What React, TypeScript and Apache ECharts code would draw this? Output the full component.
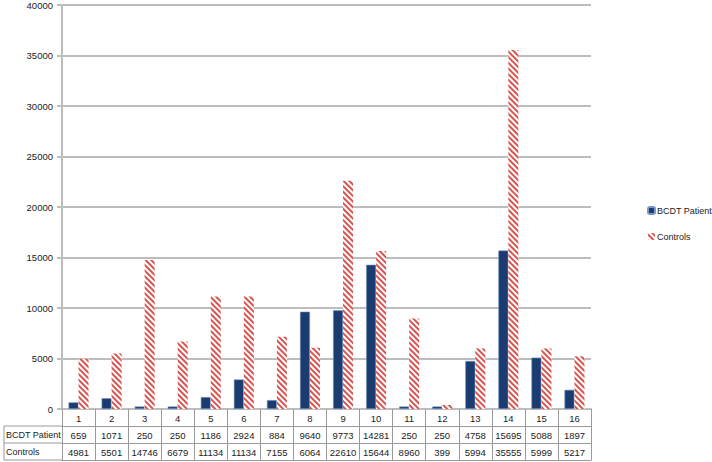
import React, { useEffect, useRef } from "react";
import * as echarts from "echarts";

const categories = ["1","2","3","4","5","6","7","8","9","10","11","12","13","14","15","16"];
const patientValues = [659,1071,250,250,1186,2924,884,9640,9773,14281,250,250,4758,15695,5088,1897];
const controlValues = [4981,5501,14746,6679,11134,11134,7155,6064,22610,15644,8960,399,5994,35555,5999,5217];
const seriesNames = ["BCDT Patient", "Controls"];

const FONT = "'Liberation Sans', Arial, sans-serif";
const GRID_L = 62, GRID_R = 121, GRID_T = 4, GRID_B = 53;
const ROW = 17;
const TABLE_LINE = "#9a9a9a";
const NUM_SIZE = 9.5;
const TXT_SIZE = 9;

export default function App() {
  const ref = useRef<HTMLDivElement>(null);
  useEffect(() => {
    if (!ref.current) return;
    const chart = echarts.init(ref.current, null, { renderer: "svg" });
    const zeroY = 462 - GRID_B;
    const tableAxis = (data: (string | number)[], offset: number) => ({
      type: "category" as const,
      data: data.map(String),
      position: "bottom" as const,
      gridIndex: 0,
      offset,
      boundaryGap: true,
      axisLine: { show: true, lineStyle: { color: TABLE_LINE, width: 1 } },
      axisTick: { show: true, length: ROW, lineStyle: { color: TABLE_LINE, width: 1 } },
      axisLabel: { show: true, margin: 4, fontSize: NUM_SIZE, color: "#222", fontFamily: FONT, interval: 0 },
      splitLine: { show: false },
    });
    chart.setOption({
      animation: false,
      backgroundColor: "#fff",
      grid: { left: GRID_L, right: GRID_R, top: GRID_T, bottom: GRID_B, containLabel: false },
      legend: {
        orient: "vertical",
        left: 647,
        top: 206,
        padding: 0,
        itemWidth: 7,
        itemHeight: 7,
        itemGap: 17,
        textStyle: { fontSize: TXT_SIZE, color: "#222", fontFamily: FONT, padding: [0, 0, 0, -3], width: 70, overflow: "none" },
        data: seriesNames,
      },
      xAxis: [
        {
          ...tableAxis(categories, 0),
          axisLine: { show: true, lineStyle: { color: "#bdbdbd", width: 2 } },
        },
        tableAxis(patientValues, ROW),
        tableAxis(controlValues, ROW * 2),
        {
          ...tableAxis(categories, ROW * 3),
          axisTick: { show: false },
          axisLabel: { show: false },
        },
      ],
      yAxis: {
        type: "value",
        min: 0,
        max: 40000,
        interval: 5000,
        axisLine: { show: true, lineStyle: { color: "#bdbdbd", width: 2 } },
        axisTick: { show: true, length: 5, lineStyle: { color: "#bdbdbd", width: 2 } },
        axisLabel: { margin: 9, fontSize: NUM_SIZE, color: "#222", fontFamily: FONT, formatter: (v: number) => String(v) },
        splitLine: { show: true, lineStyle: { color: "#bdbdbd", width: 2 } },
      },
      series: [
        {
          name: seriesNames[0],
          type: "bar",
          xAxisIndex: 0,
          data: patientValues,
          barWidth: 10,
          barGap: "0%",
          itemStyle: { color: "#1b3c71", borderColor: "#7a98c8", borderWidth: 0.6 },
        },
        {
          name: seriesNames[1],
          type: "bar",
          xAxisIndex: 0,
          data: controlValues,
          barWidth: 10,
          barGap: "0%",
          itemStyle: {
            color: "#ffffff",
            decal: {
              symbol: "rect",
              symbolSize: 1,
              dashArrayX: [1, 0],
              dashArrayY: [1.2, 1.3],
              rotation: Math.PI / 4,
              color: "#d9534f",
            },
          },
        },
      ],
      graphic: [
        { type: "line", shape: { x1: 4, y1: zeroY + ROW, x2: GRID_L, y2: zeroY + ROW }, style: { stroke: TABLE_LINE, lineWidth: 1 } },
        { type: "line", shape: { x1: 4, y1: zeroY + ROW * 2, x2: GRID_L, y2: zeroY + ROW * 2 }, style: { stroke: TABLE_LINE, lineWidth: 1 } },
        { type: "line", shape: { x1: 4, y1: zeroY + ROW * 3, x2: GRID_L, y2: zeroY + ROW * 3 }, style: { stroke: TABLE_LINE, lineWidth: 1 } },
        { type: "line", shape: { x1: 4, y1: zeroY + ROW, x2: 4, y2: zeroY + ROW * 3 }, style: { stroke: TABLE_LINE, lineWidth: 1 } },
        { type: "text", left: 6, top: zeroY + ROW + 4, style: { text: seriesNames[0], fontSize: TXT_SIZE, fill: "#222", fontFamily: FONT } },
        { type: "text", left: 6, top: zeroY + ROW * 2 + 4, style: { text: seriesNames[1], fontSize: TXT_SIZE, fill: "#222", fontFamily: FONT } },
      ],
    });
    return () => chart.dispose();
  }, []);
  return <div ref={ref} style={{ width: 712, height: 462, position: "absolute", left: 0, top: 0 }} />;
}
